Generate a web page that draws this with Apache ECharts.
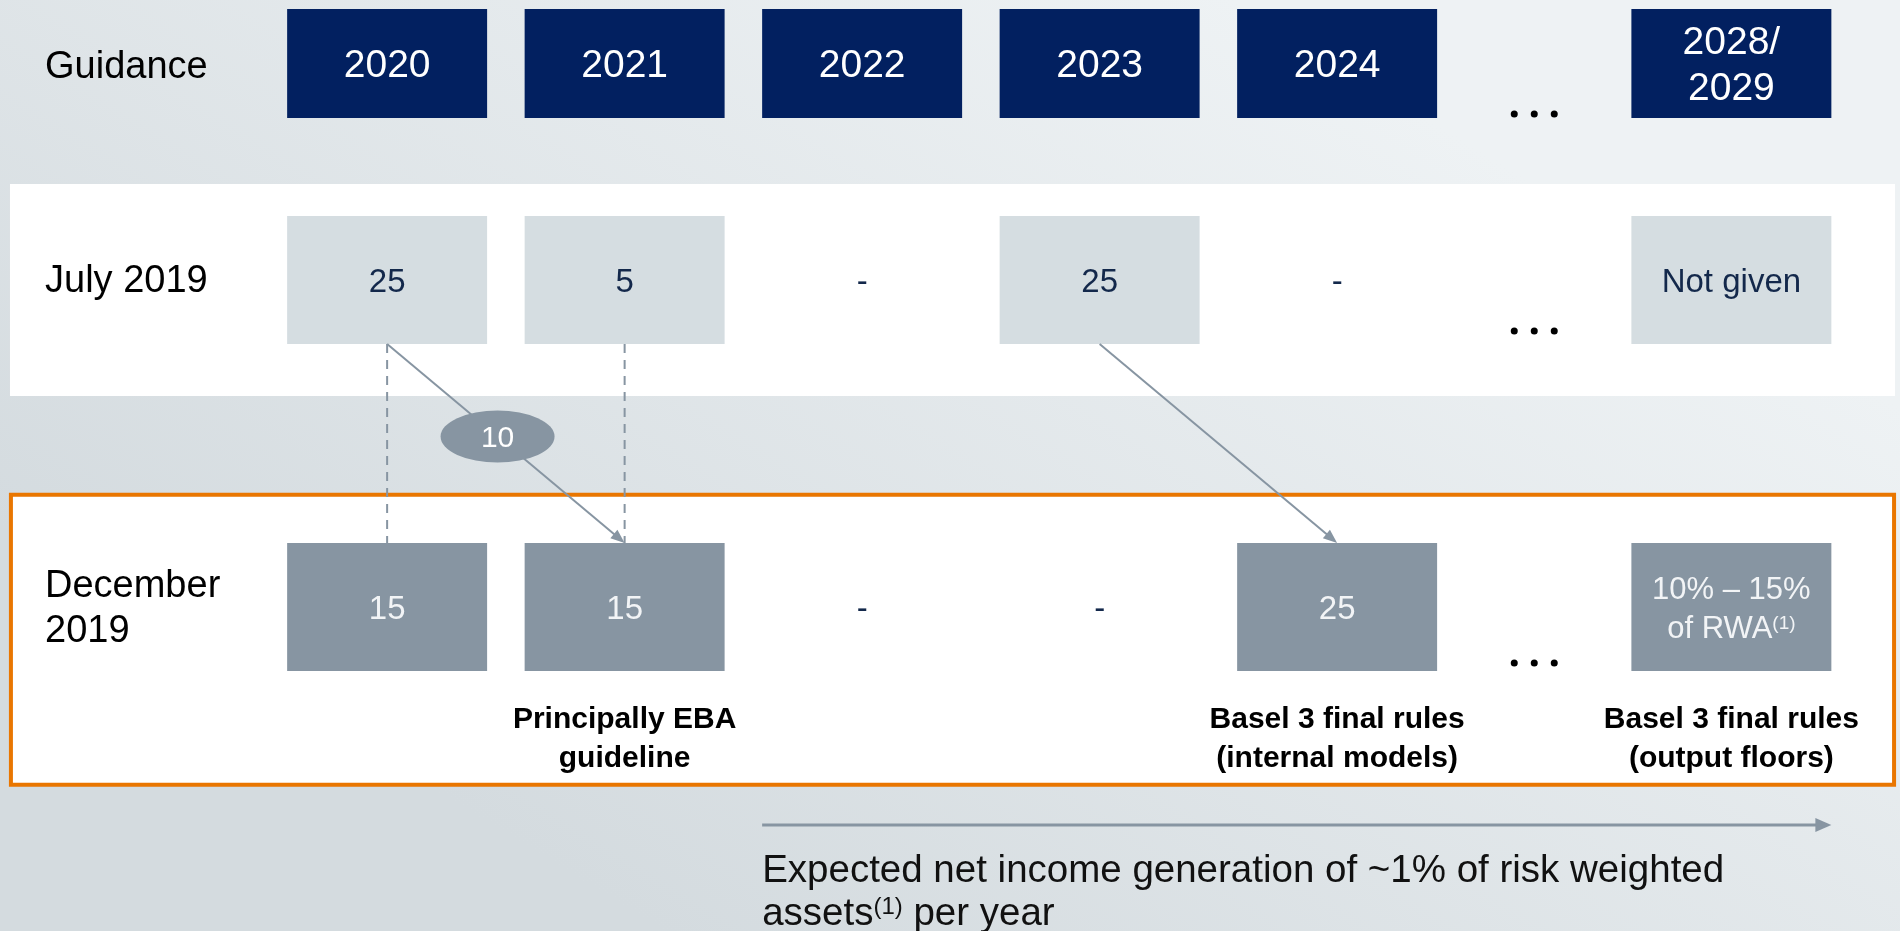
<!DOCTYPE html>
<html><head><meta charset="utf-8">
<script src="https://cdn.jsdelivr.net/npm/echarts@6/dist/echarts.min.js"></script>
<style>html,body{margin:0;padding:0;width:1900px;height:931px;overflow:hidden}#c{width:1900px;height:931px}</style>
</head><body><div id="c"></div>
<script>
// ---------------- data ----------------
const rowLabels = ['Guidance', 'July 2019', 'December\n2019'];
const years = ['2020', '2021', '2022', '2023', '2024', '2028/\n2029'];
const july2019 = ['25', '5', '-', '25', '-', 'Not given'];
const dec2019 = ['15', '15', '-', '-', '25', '10% – 15%\nof RWA(1)'];
const notes = ['', 'Principally EBA\nguideline', '', '', 'Basel 3 final rules\n(internal models)', 'Basel 3 final rules\n(output floors)'];
const shiftValue = '10';
const transitions = [[0, 1], [3, 4]];      // July column -> December column
const dashedLinks = [0, 1];                 // columns with dashed July->Dec link
const caption = 'Expected net income generation of ~1% of risk weighted\nassets(1) per year';

// ---------------- layout (axis units) ----------------
const X_MIN = -1.63, X_MAX = 6.37;          // column units
const colX = [0, 1, 2, 3, 4, 5.66];
const dotsX = 4.83, dotGap = 0.0842;
const BOX_W = 0.842;
const LABEL_X = -1.4405;
const TEXT_DY = 3;
const ROW = { guid: { y: 63.5, h: 109 }, july: { y: 280, h: 128 }, dec: { y: 607, h: 128 } };
const dotsY = [114, 331, 663];
const panels = [
  { x0: -1.588, x1: 6.349, y0: 184, y1: 396, fill: '#ffffff' },
  { x0: -1.584, x1: 6.345, y0: 494.7, y1: 784.7, fill: '#ffffff', stroke: '#e97600', lw: 4 }
];

const FONT = '"Liberation Sans", Arial, sans-serif';
const NAVY = '#022060', LIGHT = '#d5dde1', GREY = '#8795a2', LINE = '#8795a2', TXT_NAVY = '#13284b';

function sup(s, cls) { return s.replace(/\(1\)/g, '{' + cls + '|(1)}'); }
const RICH = {
  sw: { fontSize: 19, fill: '#f2f4f6', fontFamily: FONT, verticalAlign: 'top', padding: [4, 0, 0, 0] },
  sd: { fontSize: 24, fill: '#111111', fontFamily: FONT, verticalAlign: 'top', padding: [2, 0, 0, 0] }
};

// boxes
const boxItems = [];
years.forEach((t, i) => boxItems.push({ x: colX[i], y: ROW.guid.y, h: ROW.guid.h, fill: NAVY, text: t, color: '#ffffff', fs: 39, lh: 46 }));
july2019.forEach((t, i) => boxItems.push({ x: colX[i], y: ROW.july.y, h: ROW.july.h, fill: t === '-' ? null : LIGHT, text: t, color: TXT_NAVY, fs: 33, lh: 39 }));
dec2019.forEach((t, i) => boxItems.push({ x: colX[i], y: ROW.dec.y, h: ROW.dec.h, fill: t === '-' ? null : GREY, text: sup(t, 'sw'), color: t === '-' ? TXT_NAVY : '#f2f4f6', fs: t.length > 5 ? 31 : 33, lh: 39 }));

// texts
const textItems = [];
const rowLabelY = [65, 279, 606.5];
rowLabels.forEach((t, i) => textItems.push({ x: LABEL_X, y: rowLabelY[i], text: t, align: 'left', fs: 38, lh: 45, color: '#000000' }));
notes.forEach((t, i) => { if (t) textItems.push({ x: colX[i], y: 736.5, text: t, align: 'center', fs: 30, lh: 39, color: '#000000', weight: 'bold' }); });
textItems.push({ x: colX[2] - BOX_W / 2, y: 890, text: sup(caption, 'sd'), align: 'left', fs: 38.5, lh: 43, color: '#111111' });

// connectors
const julyBottom = ROW.july.y + ROW.july.h / 2, decTop = ROW.dec.y - ROW.dec.h / 2;
const connectors = [];
dashedLinks.forEach(i => connectors.push({ from: [colX[i], julyBottom], to: [colX[i], decTop], dashed: true, width: 2 }));
transitions.forEach(([a, b]) => connectors.push({ from: [colX[a], julyBottom], to: [colX[b], decTop], width: 2, head: [14, 11] }));
connectors.push({ from: [colX[2] - BOX_W / 2, 825], to: [colX[5] + BOX_W / 2, 825], width: 3, head: [16, 14] });

const t0 = 0.465;
const ellipsePos = [colX[transitions[0][0]] + t0 * (colX[transitions[0][1]] - colX[transitions[0][0]]), julyBottom + t0 * (decTop - julyBottom)];

const dots = [];
dotsY.forEach(y => [-1, 0, 1].forEach(k => dots.push([dotsX + k * dotGap, y])));

// ---------------- render ----------------
function rectFrom(api, x0, y0, x1, y1) {
  const a = api.coord([x0, y0]), b = api.coord([x1, y1]);
  return { x: Math.min(a[0], b[0]), y: Math.min(a[1], b[1]), width: Math.abs(b[0] - a[0]), height: Math.abs(b[1] - a[1]) };
}

const chart = echarts.init(document.getElementById('c'), null, { renderer: 'canvas', width: 1900, height: 931 });
chart.setOption({
  animation: false,
  backgroundColor: {
    type: 'linear', x: 0.65, y: 0, x2: 0.35, y2: 1,
    colorStops: [{ offset: 0, color: '#eef2f4' }, { offset: 1, color: '#d4dbdf' }]
  },
  grid: { left: 0, right: 0, top: 0, bottom: 0, containLabel: false },
  xAxis: { type: 'value', min: X_MIN, max: X_MAX, show: false },
  yAxis: { type: 'value', min: 0, max: 931, inverse: true, show: false },
  series: [
    {
      type: 'custom', silent: true, z: 1,
      data: panels.map(p => [p.x0, p.y0]),
      renderItem: (params, api) => {
        const p = panels[params.dataIndex];
        return { type: 'rect', shape: rectFrom(api, p.x0, p.y0, p.x1, p.y1), style: { fill: p.fill, stroke: p.stroke || null, lineWidth: p.lw || 0 } };
      }
    },
    {
      type: 'custom', silent: true, z: 2,
      data: boxItems.map(b => [b.x, b.y]),
      renderItem: (params, api) => {
        const b = boxItems[params.dataIndex];
        const children = [];
        if (b.fill) children.push({ type: 'rect', shape: rectFrom(api, b.x - BOX_W / 2, b.y - b.h / 2, b.x + BOX_W / 2, b.y + b.h / 2), style: { fill: b.fill } });
        const c = api.coord([b.x, b.y + TEXT_DY]);
        children.push({ type: 'text', style: { text: b.text, x: c[0], y: c[1], align: 'center', verticalAlign: 'middle', fill: b.color, fontSize: b.fs, fontFamily: FONT, lineHeight: b.lh, rich: RICH } });
        return { type: 'group', children };
      }
    },
    {
      type: 'custom', silent: true, z: 3,
      data: connectors.map(c => [c.from[0], c.from[1]]),
      renderItem: (params, api) => {
        const c = connectors[params.dataIndex];
        const p1 = api.coord(c.from), p2 = api.coord(c.to);
        const dx = p2[0] - p1[0], dy = p2[1] - p1[1], len = Math.hypot(dx, dy), ux = dx / len, uy = dy / len;
        const children = [];
        let end = p2;
        if (c.head) end = [p2[0] - ux * c.head[0] * 0.8, p2[1] - uy * c.head[0] * 0.8];
        const st = { stroke: LINE, lineWidth: c.width };
        if (c.dashed) st.lineDash = [9, 7];
        children.push({ type: 'line', shape: { x1: p1[0], y1: p1[1], x2: end[0], y2: end[1] }, style: st });
        if (c.head) {
          const L = c.head[0], W = c.head[1];
          const bx = p2[0] - ux * L, by = p2[1] - uy * L;
          children.push({ type: 'polygon', shape: { points: [[p2[0], p2[1]], [bx - uy * W / 2, by + ux * W / 2], [bx + uy * W / 2, by - ux * W / 2]] }, style: { fill: LINE } });
        }
        return { type: 'group', children };
      }
    },
    {
      type: 'scatter', silent: true, z: 4,
      data: [ellipsePos],
      symbol: 'circle', symbolSize: [114, 52],
      itemStyle: { color: GREY, opacity: 1 },
      label: { show: true, position: 'inside', formatter: shiftValue, color: '#ffffff', fontSize: 30, fontFamily: FONT, offset: [0, 2] }
    },
    {
      type: 'scatter', silent: true, z: 4,
      data: dots, symbol: 'circle', symbolSize: 7,
      itemStyle: { color: '#000000', opacity: 1 }
    },
    {
      type: 'custom', silent: true, z: 5,
      data: textItems.map(t => [t.x, t.y]),
      renderItem: (params, api) => {
        const t = textItems[params.dataIndex];
        const c = api.coord([t.x, t.y + TEXT_DY]);
        return { type: 'text', style: { text: t.text, x: c[0], y: c[1], align: t.align, verticalAlign: 'middle', fill: t.color, fontSize: t.fs, fontFamily: FONT, fontWeight: t.weight || 'normal', lineHeight: t.lh, rich: RICH } };
      }
    }
  ]
});
</script>
</body></html>
